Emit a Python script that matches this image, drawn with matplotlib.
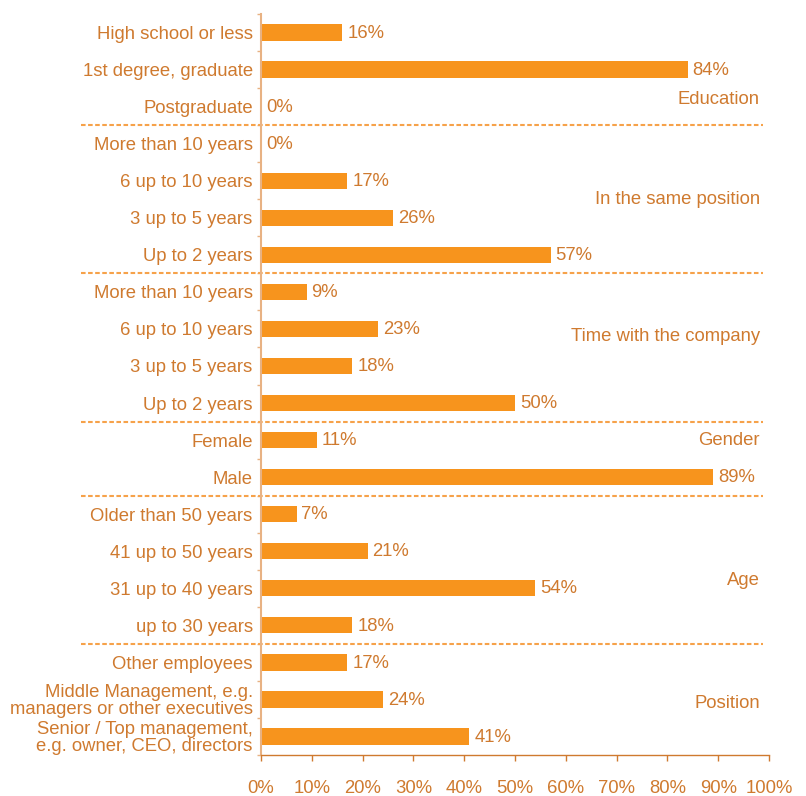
import matplotlib
matplotlib.use("Agg")
import matplotlib.pyplot as plt
import matplotlib.transforms as mtransforms
import numpy as np

plt.rcParams['font.family'] = ['Liberation Sans', 'DejaVu Sans']

# ==== Data ====
groups = ["Education", "In the same position", "Time with the company",
          "Gender", "Age", "Position"]
group_items = [
    ["High school or less", "1st degree, graduate", "Postgraduate"],
    ["More than 10 years", "6 up to 10 years", "3 up to 5 years", "Up to 2 years"],
    ["More than 10 years", "6 up to 10 years", "3 up to 5 years", "Up to 2 years"],
    ["Female", "Male"],
    ["Older than 50 years", "41 up to 50 years", "31 up to 40 years", "up to 30 years"],
    ["Other employees", "Middle Management, e.g.\nmanagers or other executives",
     "Senior / Top management,\ne.g. owner, CEO, directors"],
]
group_values = [
    [16, 84, 0],
    [0, 17, 26, 57],
    [9, 23, 18, 50],
    [11, 89],
    [7, 21, 54, 18],
    [17, 24, 41],
]
x_ticks = [0, 10, 20, 30, 40, 50, 60, 70, 80, 90, 100]

# ==== Style ====
BAR = "#F7941D"
TXT = "#CF7A2F"
SPINE_Y = "#E8B283"
DASH = "#F6A24A"
FS = 13.3
# where each group label sits, relative to the group's middle row
label_shift = [0.8, 0.0, -0.3, -0.5, 0.3, 0.1]

labels = [l for g in group_items for l in g]
values = [v for g in group_values for v in g]
pos = np.arange(len(values))

fig = plt.figure(figsize=(8.06, 7.96), dpi=100)
ax = fig.add_axes([0.3238, 0.0515, 0.6303, 0.9309])

ax.barh(pos, values, height=0.44, color=BAR)
for p, v in zip(pos, values):
    ax.annotate(f"{v}%", (v, p), xytext=(3.5, -0.5), textcoords="offset points",
                va="center", ha="left", fontsize=FS, color=TXT)

ax.set_xlim(0, 100)
ax.set_ylim(len(values) - 0.5, -0.5)

# category labels
ax.set_yticks(pos)
ax.set_yticklabels(labels, fontsize=FS, color=TXT, linespacing=0.95)
ax.tick_params(axis="y", which="major", length=0, pad=6)
ax.set_yticks(np.arange(len(values) + 1) - 0.5, minor=True)
ax.tick_params(axis="y", which="minor", length=3, width=1, color=SPINE_Y, direction="out")

ax.set_xticks(x_ticks)
ax.set_xticklabels([f"{t}%" for t in x_ticks], fontsize=FS, color=TXT)
ax.tick_params(axis="x", length=4, width=1, color=TXT, direction="out", pad=14)

for s in ["top", "right"]:
    ax.spines[s].set_visible(False)
ax.spines["left"].set_color(SPINE_Y)
ax.spines["left"].set_linewidth(1.5)
ax.spines["bottom"].set_color(TXT)
ax.spines["bottom"].set_linewidth(1.0)

# group separators and group labels
trans = mtransforms.blended_transform_factory(ax.transAxes, ax.transData)
start = 0
for i, g in enumerate(groups):
    n = len(group_items[i])
    mid = start + (n - 1) / 2 + label_shift[i]
    ax.text(0.982, mid, g, transform=trans, ha="right", va="center",
            fontsize=FS, color=TXT)
    end = start + n
    if i < len(groups) - 1:
        ax.plot([-0.354, 0.988], [end - 0.5, end - 0.5], transform=trans,
                color=DASH, lw=1.5, ls=(0, (2.2, 1.2)), clip_on=False)
    start = end

fig.savefig("out.png", dpi=100)
